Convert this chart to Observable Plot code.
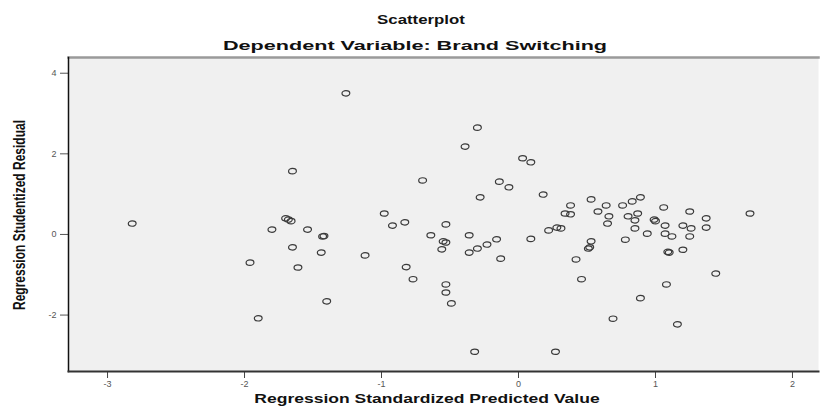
<!DOCTYPE html>
<html><head><meta charset="utf-8">
<script src="https://cdn.jsdelivr.net/npm/d3@7"></script>
<script src="https://cdn.jsdelivr.net/npm/@observablehq/plot@0.6"></script>
<style>
body{margin:0;background:#fff;font-family:"Liberation Sans",Arial,sans-serif;}
#wrap{position:relative;width:824px;height:408px;}
.t{position:absolute;font-weight:bold;color:#111;white-space:nowrap;line-height:1;}
</style></head>
<body><div id="wrap"></div>
<script>
const title = "Scatterplot";
const subtitle = "Dependent Variable: Brand Switching";
const xLabel = "Regression Standardized Predicted Value";
const yLabel = "Regression Studentized Residual";
const xTicks = [-3, -2, -1, 0, 1, 2];
const yTicks = [-2, 0, 2, 4];
const predicted = [
-2.82,-1.96,-1.90,-1.80,-1.70,-1.68,-1.66,-1.65,-1.54,-1.43,-1.42,-1.65,-1.44,-1.61,-1.40,-1.26,-1.12,
-0.98,-0.92,-0.83,-0.82,-0.77,-0.70,-0.64,-0.53,-0.55,-0.53,-0.56,-0.53,-0.53,-0.49,-0.39,-0.36,-0.36,
-0.32,-0.30,-0.30,-0.28,-0.23,-0.16,-0.14,-0.13,-0.07,0.03,0.09,0.09,0.18,0.22,0.28,0.31,0.27,0.34,
0.38,0.38,0.42,0.46,0.51,0.52,0.53,0.53,0.58,0.64,0.66,0.65,0.69,0.76,0.78,0.80,0.83,0.85,0.85,0.87,
0.89,0.89,0.94,0.99,1.00,1.06,1.07,1.07,1.08,1.09,1.10,1.12,1.16,1.20,1.20,1.25,1.26,1.25,1.37,1.37,
1.44,1.69];
const residual = [
0.27,-0.70,-2.08,0.12,0.40,0.37,0.33,1.57,0.12,-0.05,-0.04,-0.32,-0.45,-0.82,-1.66,3.50,-0.52,
0.52,0.22,0.30,-0.81,-1.11,1.34,-0.02,0.25,-0.17,-0.20,-0.37,-1.24,-1.44,-1.71,2.18,-0.02,-0.45,
-2.91,2.65,-0.35,0.92,-0.25,-0.12,1.31,-0.60,1.17,1.89,1.79,-0.11,0.99,0.10,0.17,0.15,-2.91,0.52,
0.50,0.72,-0.62,-1.11,-0.35,-0.32,-0.17,0.87,0.57,0.72,0.45,0.27,-2.09,0.72,-0.13,0.45,0.82,0.35,0.15,0.52,
0.92,-1.58,0.02,0.37,0.33,0.67,0.22,0.02,-1.24,-0.43,-0.45,-0.05,-2.23,0.22,-0.38,0.57,0.15,-0.05,0.40,0.17,
-0.97,0.52];
const points = predicted.map((x, i) => ({x, y: residual[i]}));

const ellipse = {
  draw(ctx) {
    const rx = 3.9, ry = 2.7, k = 0.5523;
    ctx.moveTo(rx, 0);
    ctx.bezierCurveTo(rx, k*ry, k*rx, ry, 0, ry);
    ctx.bezierCurveTo(-k*rx, ry, -rx, k*ry, -rx, 0);
    ctx.bezierCurveTo(-rx, -k*ry, -k*rx, -ry, 0, -ry);
    ctx.bezierCurveTo(k*rx, -ry, rx, -k*ry, rx, 0);
    ctx.closePath();
  }
};
const fmt = d => String(d);

const chart = Plot.plot({
  width: 824, height: 408,
  marginLeft: 68, marginRight: 6, marginTop: 57, marginBottom: 37,
  style: {fontFamily: "'Liberation Sans', Arial, sans-serif", fontSize: "9px", color: "#555", background: "transparent"},
  x: {domain: [-3.285, 2.19], ticks: xTicks, label: null},
  y: {domain: [-3.40, 4.39], ticks: yTicks, label: null},
  marks: [
    Plot.frame({fill: "#f0f0f0", stroke: null}),
    Plot.frame({anchor: "top", stroke: "#9a9a9a", strokeWidth: 2.5}),
    Plot.axisX({ticks: xTicks, tickFormat: fmt, tickSize: 7, tickPadding: 2, stroke: "#444", fill: "#555", fontSize: 9}),
    Plot.axisY({ticks: yTicks, tickFormat: fmt, tickSize: 8, tickPadding: 4, stroke: "#555", fill: "#555", fontSize: 9}),
    Plot.dot(points, {x: "x", y: "y", symbol: ellipse, stroke: "#3a3a3a", strokeWidth: 1.2, fill: "none"}),
    Plot.frame({anchor: "left", stroke: "#111", strokeWidth: 1.5}),
    Plot.frame({anchor: "bottom", stroke: "#333", strokeWidth: 2})
  ]
});
const wrap = document.getElementById("wrap");
wrap.appendChild(chart);
chart.style.position = "absolute"; chart.style.left = "0"; chart.style.top = "0";

function addText(txt, cx, cy, size, transform) {
  const d = document.createElement("div");
  d.className = "t"; d.textContent = txt;
  d.style.left = cx + "px"; d.style.top = cy + "px"; d.style.fontSize = size + "px";
  d.style.transform = "translate(-50%,-50%) " + transform;
  wrap.appendChild(d);
}
addText(title, 421, 20, 12, "scale(1.4,1)");
addText(subtitle, 415, 46, 13.5, "scale(1.6,1)");
addText(xLabel, 427, 399, 12.5, "scale(1.4,1)");
addText(yLabel, 20, 215, 12, "rotate(-90deg) scale(1,1.35)");
</script></body></html>
